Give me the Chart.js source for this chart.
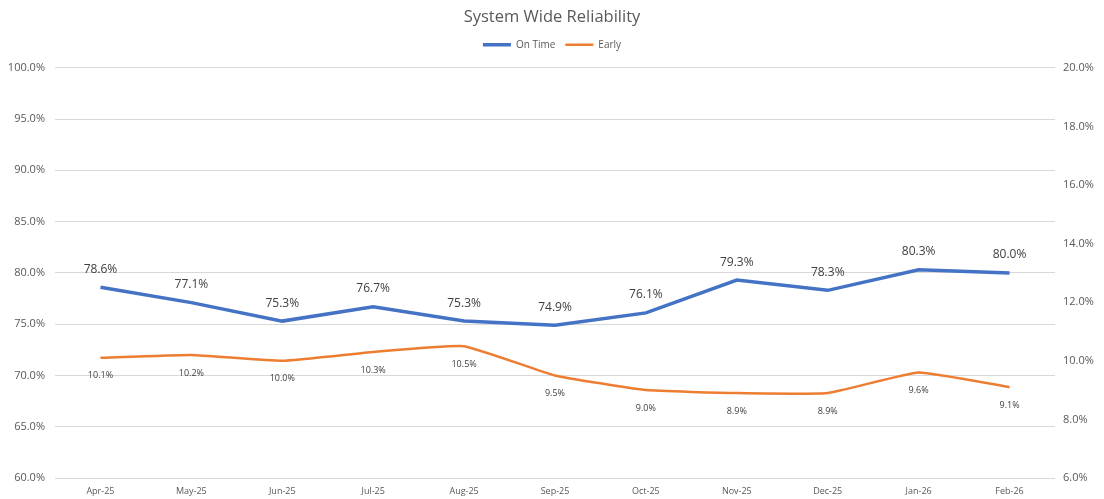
<!DOCTYPE html>
<html>
<head>
<meta charset="utf-8">
<script src="https://cdn.jsdelivr.net/npm/chart.js@4"></script>
<style>
  html, body { margin: 0; padding: 0; background: #fff; }
  #wrap { width: 1104px; height: 499px; }
</style>
</head>
<body>
<div id="wrap"><canvas id="reliability-chart"></canvas></div>
<script>
const months = ["Apr-25", "May-25", "Jun-25", "Jul-25", "Aug-25", "Sep-25", "Oct-25", "Nov-25", "Dec-25", "Jan-26", "Feb-26"];
const onTime = [78.6, 77.1, 75.3, 76.7, 75.3, 74.9, 76.1, 79.3, 78.3, 80.3, 80.0];
const early = [10.1, 10.2, 10.0, 10.3, 10.5, 9.5, 9.0, 8.9, 8.9, 9.6, 9.1];

const FONT = "'Open Sans', 'Noto Sans', sans-serif";
const TEXT = "#595959";

// draws the value labels (above for on time, below for early)
const valueLabels = {
  id: "valueLabels",
  afterDatasetsDraw(chart) {
    const ctx = chart.ctx;
    ctx.save();
    ctx.textAlign = "center";
    ctx.textBaseline = "middle";
    ctx.fillStyle = "#404040";
    chart.data.datasets.forEach((ds, i) => {
      const meta = chart.getDatasetMeta(i);
      meta.data.forEach((pt, j) => {
        const v = ds.data[j].toFixed(1) + "%";
        if (i === 0) {
          ctx.font = "12px " + FONT;
          ctx.fillText(v, pt.x, pt.y - 18);
        } else {
          ctx.font = "9px " + FONT;
          ctx.fillText(v, pt.x, pt.y + 18);
        }
      });
    });
    ctx.restore();
  },
};

// extra room under the legend so the plot starts lower
const legendGap = {
  id: "legendGap",
  afterInit(chart) {
    const legend = chart.legend;
    if (!legend) return;
    const fit = legend.fit;
    legend.fit = function () {
      fit.call(this);
      this.height += 8;
    };
  },
};

const ctx = document.getElementById("reliability-chart").getContext("2d");
new Chart(ctx, {
  type: "line",
  data: {
    labels: months,
    datasets: [
      {
        label: "On Time",
        data: onTime,
        yAxisID: "y",
        borderColor: "#4472C4",
        backgroundColor: "#4472C4",
        borderWidth: 3.5,
        pointRadius: 0,
        pointStyle: "line",
        tension: 0,
      },
      {
        label: "Early",
        data: early,
        yAxisID: "y1",
        borderColor: "#ED7D31",
        backgroundColor: "#ED7D31",
        borderWidth: 2.5,
        pointRadius: 0,
        pointStyle: "line",
        tension: 0.12,
      },
    ],
  },
  options: {
    responsive: true,
    maintainAspectRatio: false,
    animation: false,
    plugins: {
      title: {
        display: true,
        text: "System Wide Reliability",
        color: TEXT,
        font: { family: FONT, size: 16.5, weight: "normal" },
        padding: { top: 7, bottom: 3 },
      },
      legend: {
        display: true,
        labels: {
          usePointStyle: true,
          pointStyleWidth: 28,
          color: TEXT,
          font: { family: FONT, size: 10 },
          padding: 10,
        },
      },
      tooltip: { enabled: false },
    },
    scales: {
      x: {
        offset: true,
        grid: { display: false },
        border: { display: false },
        ticks: { color: TEXT, font: { family: FONT, size: 9 }, maxRotation: 0, padding: 0 },
        afterFit(scale) { scale.height = 21; },
      },
      y: {
        position: "left",
        min: 60,
        max: 100,
        ticks: {
          stepSize: 5,
          color: TEXT,
          font: { family: FONT, size: 11 },
          padding: 10,
          callback: (v) => v.toFixed(1) + "%",
        },
        grid: { color: "#d9d9d9", drawTicks: false },
        border: { display: false },
        afterFit(scale) { scale.width = 55; },
      },
      y1: {
        position: "right",
        min: 6,
        max: 20,
        ticks: {
          stepSize: 2,
          color: TEXT,
          font: { family: FONT, size: 11 },
          padding: 8,
          callback: (v) => v.toFixed(1) + "%",
        },
        grid: { display: false, drawTicks: false },
        border: { display: false },
        afterFit(scale) { scale.width = 49; },
      },
    },
  },
  plugins: [valueLabels, legendGap],
});
</script>
</body>
</html>
